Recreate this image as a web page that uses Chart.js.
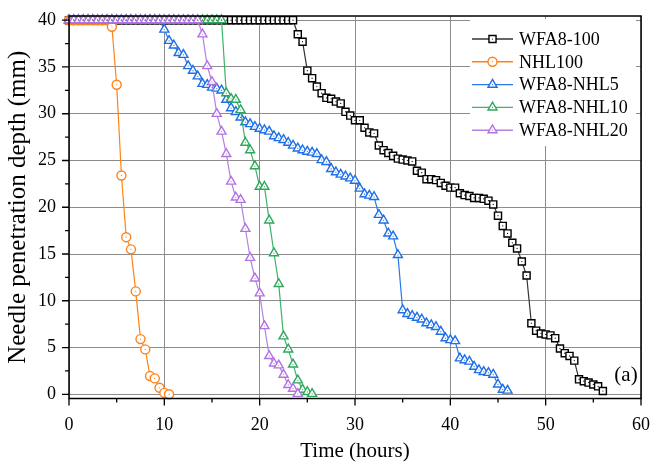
<!DOCTYPE html>
<html>
<head>
<meta charset="utf-8">
<script src="https://cdn.jsdelivr.net/npm/chart.js@4"></script>
<style>
body { margin: 0; background: #fff; }
</style>
</head>
<body>
<canvas id="myChart" width="654" height="466"></canvas>
<script>
// sampling times (h), every series is read at half-hour steps
const hours = [0, 0.5, 1, 1.5, 2, 2.5, 3, 3.5, 4, 4.5, 5, 5.5, 6, 6.5, 7, 7.5, 8, 8.5, 9, 9.5,
	10, 10.5, 11, 11.5, 12, 12.5, 13, 13.5, 14, 14.5, 15, 15.5, 16, 16.5, 17, 17.5, 18, 18.5, 19, 19.5,
	20, 20.5, 21, 21.5, 22, 22.5, 23, 23.5, 24, 24.5, 25, 25.5, 26, 26.5, 27, 27.5, 28, 28.5, 29, 29.5,
	30, 30.5, 31, 31.5, 32, 32.5, 33, 33.5, 34, 34.5, 35, 35.5, 36, 36.5, 37, 37.5, 38, 38.5, 39, 39.5,
	40, 40.5, 41, 41.5, 42, 42.5, 43, 43.5, 44, 44.5, 45, 45.5, 46, 46.5, 47, 47.5, 48, 48.5, 49, 49.5,
	50, 50.5, 51, 51.5, 52, 52.5, 53, 53.5, 54, 54.5, 55, 55.5, 56];

// needle penetration depth (mm)
const wfa100 = [40, 40, 40, 40, 40, 40, 40, 40, 40, 40, 40, 40, 40, 40, 40, 40, 40, 40, 40, 40,
	40, 40, 40, 40, 40, 40, 40, 40, 40, 40, 40, 40, 40, 40, 40, 40, 40, 40, 40, 40,
	40, 40, 40, 40, 40, 40, 40, 40, 38.5, 37.7, 34.6, 33.8, 32.9, 32.2, 31.7, 31.6, 31.3, 31.1, 30.2, 29.8,
	29.3, 29.3, 28.5, 28.0, 27.9, 26.6, 26.1, 25.8, 25.5, 25.2, 25.1, 25.0, 24.9, 23.9, 23.7, 23.0, 23.0, 22.9, 22.6, 22.3,
	22.1, 22.1, 21.5, 21.3, 21.2, 21.0, 21.0, 20.9, 20.7, 20.3, 19.1, 18.0, 17.2, 16.2, 15.6, 14.2, 12.7, 7.6, 6.8, 6.5,
	6.4, 6.3, 6.0, 4.9, 4.4, 4.1, 3.6, 1.6, 1.4, 1.25, 1.05, 0.85, 0.35];
const nhl100 = [40, 40, 40, 40, 40, 40, 40, 40, 40, 39.3, 33.1, 23.4, 16.8, 15.5, 11.0, 5.9, 4.8, 1.95, 1.7, 0.7,
	0.15, 0.0];
const nhl5 = [40, 40, 40, 40, 40, 40, 40, 40, 40, 40, 40, 40, 40, 40, 40, 40, 40, 40, 40, 40,
	39.0, 37.8, 37.3, 36.5, 36.3, 35.1, 34.6, 34.0, 33.2, 33.1, 32.8, 32.7, 32.5, 31.5, 30.6, 30.2, 29.6, 29.1, 28.9, 28.6,
	28.4, 28.25, 28.1, 27.6, 27.4, 27.2, 26.9, 26.6, 26.3, 26.1, 25.95, 25.85, 25.7, 25.05, 24.85, 24.1, 23.75, 23.5, 23.3, 23.1,
	22.85, 22.0, 21.4, 21.25, 21.1, 19.2, 18.6, 17.2, 16.9, 14.9, 9.0, 8.6, 8.4, 8.2, 8.0, 7.6, 7.4, 7.2, 6.7, 6.0,
	5.8, 5.7, 3.85, 3.65, 3.5, 2.95, 2.6, 2.4, 2.3, 2.1, 1.05, 0.5, 0.4];
const nhl10 = [40, 40, 40, 40, 40, 40, 40, 40, 40, 40, 40, 40, 40, 40, 40, 40, 40, 40, 40, 40,
	40, 40, 40, 40, 40, 40, 40, 40, 40, 40, 40, 40, 40, 32.2, 31.6, 31.5, 30.4, 26.9, 26.1, 24.4,
	22.2, 22.2, 18.6, 15.1, 11.8, 6.2, 4.8, 3.2, 1.5, 0.5, 0.25, 0.05];
const nhl20 = [40, 40, 40, 40, 40, 40, 40, 40, 40, 40, 40, 40, 40, 40, 40, 40, 40, 40, 40, 40,
	40, 40, 40, 40, 40, 40, 40, 40, 38.5, 35.1, 33.4, 30.0, 28.1, 25.7, 22.75, 21.05, 20.8, 17.7, 14.6, 12.4,
	10.8, 7.3, 4.1, 3.3, 3.1, 2.1, 1.0, 0.6, 0.05];

const seriesNames = ["WFA8-100", "NHL100", "WFA8-NHL5", "WFA8-NHL10", "WFA8-NHL20"];
const xTicks = [0, 10, 20, 30, 40, 50, 60];
const yTicks = [0, 5, 10, 15, 20, 25, 30, 35, 40];

const serif = "'Liberation Serif', 'Times New Roman', serif";

function toPoints(depths) {
	var pts = [];
	for (var i = 0; i < depths.length; i++) {
		pts.push({ x: hours[i], y: depths[i] });
	}
	return pts;
}

function makeSet(label, depths, color, lineColor, style, radius, order) {
	return {
		label: label,
		data: toPoints(depths),
		borderColor: lineColor,
		borderWidth: 1.2,
		pointStyle: style,
		pointRadius: radius,
		pointBorderColor: color,
		pointBackgroundColor: "#fff",
		pointBorderWidth: 1.4,
		tension: 0,
		clip: false,
		order: order,
	};
}

// frame, minor/major ticks, marker centre dots, legend and panel tag
var extras = {
	id: "extras",
	afterDatasetsDraw: function (chart) {
		var ctx = chart.ctx;
		ctx.save();
		chart.data.datasets.forEach(function (ds, i) {
			var meta = chart.getDatasetMeta(i);
			ctx.fillStyle = ds.pointBorderColor;
			meta.data.forEach(function (p) {
				ctx.beginPath();
				ctx.arc(p.x, p.y, 0.6, 0, Math.PI * 2);
				ctx.fill();
			});
		});
		ctx.restore();
	},
	afterDraw: function (chart) {
		var ctx = chart.ctx;
		var a = chart.chartArea;
		var xs = chart.scales.x;
		var ys = chart.scales.y;
		ctx.save();

		// legend
		ctx.fillStyle = "#fff";
		ctx.fillRect(470, 19, 166, 127);
		var sets = chart.data.datasets;
		for (var i = 0; i < sets.length; i++) {
			var ry = 39 + i * 22.8;
			ctx.strokeStyle = sets[i].borderColor;
			ctx.lineWidth = 1.4;
			ctx.beginPath();
			ctx.moveTo(472, ry);
			ctx.lineTo(513, ry);
			ctx.stroke();
			ctx.fillStyle = "#fff";
			ctx.strokeStyle = sets[i].pointBorderColor;
			Chart.helpers.drawPoint(ctx, {
				pointStyle: sets[i].pointStyle,
				radius: sets[i].pointRadius,
				borderWidth: 1.4,
			}, 492.5, ry);
			ctx.fillStyle = sets[i].pointBorderColor;
			ctx.beginPath();
			ctx.arc(492.5, ry, 0.6, 0, Math.PI * 2);
			ctx.fill();
			ctx.fillStyle = "#000";
			ctx.font = "18px " + serif;
			ctx.textAlign = "left";
			ctx.textBaseline = "middle";
			ctx.fillText(seriesNames[i], 519, ry + 1);
		}

		ctx.strokeStyle = "#000";
		ctx.lineWidth = 1.5;
		ctx.strokeRect(a.left, a.top, a.right - a.left, a.bottom - a.top);

		ctx.lineWidth = 1.3;
		ctx.beginPath();
		for (var v = 0; v <= 40; v += 2.5) {
			var y = ys.getPixelForValue(v);
			var len = v % 5 === 0 ? 7 : 4;
			ctx.moveTo(a.left - len, y);
			ctx.lineTo(a.left, y);
		}
		for (var h = 0; h <= 60; h += 5) {
			var x = xs.getPixelForValue(h);
			var hl = h % 10 === 0 ? 7 : 4;
			ctx.moveTo(x, a.bottom);
			ctx.lineTo(x, a.bottom + hl);
		}
		ctx.stroke();

		ctx.fillStyle = "#000";
		ctx.font = "21px " + serif;
		ctx.textAlign = "center";
		ctx.textBaseline = "middle";
		ctx.fillText("(a)", 626, 375);
		ctx.restore();
	},
};

window.onload = function () {
	var ctx = document.getElementById("myChart").getContext("2d");
	myChart = new Chart(ctx, {
		type: "line",
		data: {
			datasets: [
				makeSet(seriesNames[0], wfa100, "#000", "#333", "rect", 5, 4),
				makeSet(seriesNames[1], nhl100, "#ff8217", "#ff8217", "circle", 4.5, 3),
				makeSet(seriesNames[2], nhl5, "#1f6fe6", "#2a7ae8", "triangle", 5.2, 2),
				makeSet(seriesNames[3], nhl10, "#2ea85c", "#3cb46a", "triangle", 5.2, 1),
				makeSet(seriesNames[4], nhl20, "#b173e3", "#b57fe3", "triangle", 5.2, 0),
			],
		},
		options: {
			responsive: false,
			animation: false,
			layout: { padding: { top: 16, right: 13, left: 0, bottom: 0 } },
			plugins: {
				legend: { display: false },
				tooltip: { enabled: false },
			},
			scales: {
				x: {
					type: "linear",
					min: 0,
					max: 60,
					afterBuildTicks: function (s) {
						s.ticks = xTicks.map(function (v) { return { value: v }; });
					},
					afterFit: function (s) {
						s.height = 67.5;
						s.paddingLeft = 0;
						s.paddingRight = 0;
					},
					grid: { color: "#8c8c8c", lineWidth: 1, drawTicks: false },
					border: { display: false },
					ticks: { color: "#000", font: { family: serif, size: 18 }, padding: 16, maxRotation: 0 },
					title: {
						display: true,
						text: "Time (hours)",
						color: "#000",
						font: { family: serif, size: 21 },
						padding: { top: 0, bottom: 1.5 },
					},
				},
				y: {
					min: -0.45,
					max: 40.45,
					afterBuildTicks: function (s) {
						s.ticks = yTicks.map(function (v) { return { value: v }; });
					},
					afterFit: function (s) {
						s.width = 69;
						s.paddingTop = 0;
						s.paddingBottom = 0;
					},
					grid: { color: "#8c8c8c", lineWidth: 1, drawTicks: false },
					border: { display: false },
					ticks: { color: "#000", font: { family: serif, size: 18 }, padding: 13 },
					title: {
						display: true,
						text: "Needle penetration depth (mm)",
						color: "#000",
						font: { family: serif, size: 25 },
						padding: { top: 3, bottom: 0 },
					},
				},
			},
		},
		plugins: [extras],
	});
};
</script>
</body>
</html>
